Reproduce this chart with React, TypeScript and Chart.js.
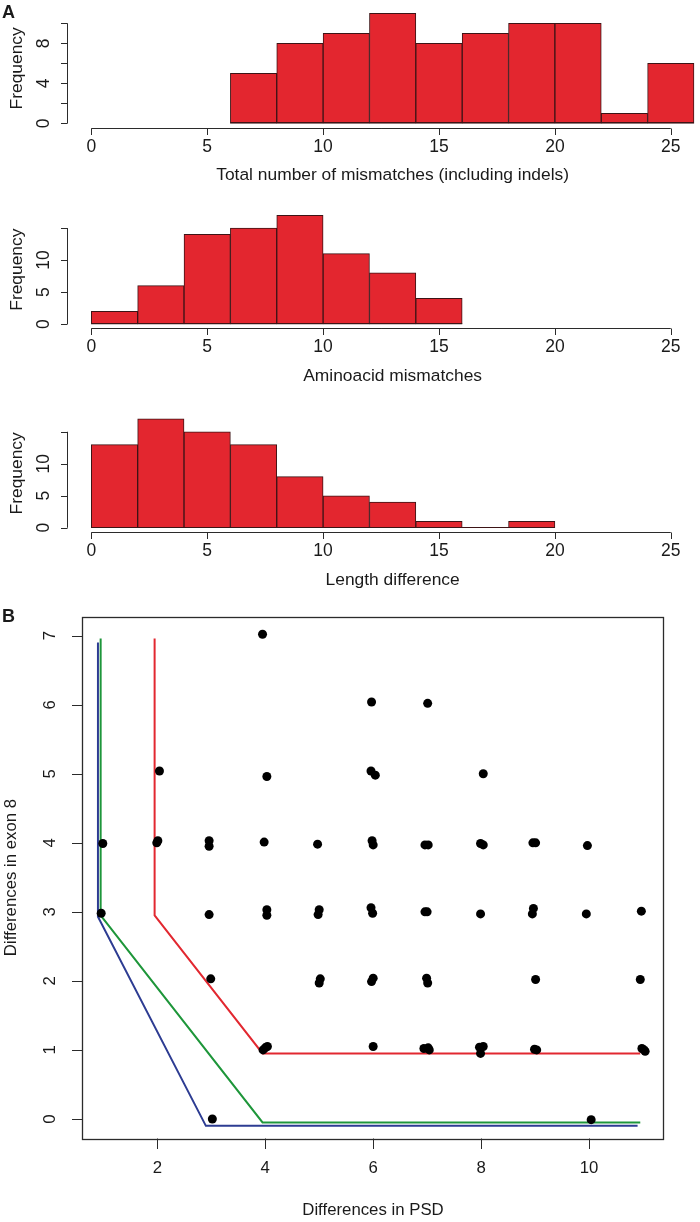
import React, { useEffect, useRef } from "react";
import { Chart, registerables } from "chart.js";

Chart.register(...registerables);

// ---------------- Data ----------------
const binWidth = 2;

const mismatchBinStarts = [6, 8, 10, 12, 14, 16, 18, 20, 22, 24];
const mismatchCounts = [5, 8, 9, 11, 8, 9, 10, 10, 1, 6];

const aminoBinStarts = [0, 2, 4, 6, 8, 10, 12, 14];
const aminoCounts = [2, 6, 14, 15, 17, 11, 8, 4];

const lengthBinStarts = [0, 2, 4, 6, 8, 10, 12, 14, 16, 18];
const lengthCounts = [13, 17, 15, 13, 8, 5, 4, 1, 0, 1];

const histXTicks = [0, 5, 10, 15, 20, 25];
const histXTickLabels = ["0", "5", "10", "15", "20", "25"];
const mismatchYTicks = [0, 2, 4, 6, 8, 10];
const mismatchYTickLabels = ["0", "", "4", "", "8", ""];
const freqYTicks = [0, 5, 10, 15];
const freqYTickLabels = ["0", "5", "10", ""];

const psdXTicks = [2, 4, 6, 8, 10];
const psdXTickLabels = ["2", "4", "6", "8", "10"];
const exonYTicks = [0, 1, 2, 3, 4, 5, 6, 7];
const exonYTickLabels = ["0", "1", "2", "3", "4", "5", "6", "7"];

// jittered observations: [differences in PSD, differences in exon 8]
const psdPoints: [number, number][] = [
  [3.95, 7.02],
  [5.97, 6.04], [7.01, 6.02],
  [2.04, 5.04], [4.03, 4.96], [5.96, 5.04], [6.04, 4.98], [8.04, 5.0],
  [0.99, 3.99], [1.99, 4.0], [2.01, 4.03], [2.96, 4.03], [2.96, 3.95],
  [3.98, 4.01], [4.97, 3.98], [5.98, 4.03], [6.0, 3.97], [6.96, 3.97],
  [7.02, 3.97], [7.99, 3.99], [8.04, 3.97], [8.96, 4.0], [9.01, 4.0], [9.97, 3.96],
  [0.96, 2.98], [2.96, 2.96], [4.03, 3.03], [4.03, 2.95], [5.0, 3.03],
  [4.98, 2.96], [5.96, 3.06], [5.99, 2.98], [6.96, 3.0], [7.0, 3.0],
  [7.99, 2.97], [8.97, 3.05], [8.95, 2.97], [9.95, 2.97], [10.97, 3.01],
  [2.99, 2.03], [5.02, 2.03], [5.0, 1.97], [6.0, 2.04], [5.97, 1.99],
  [6.99, 2.04], [7.01, 1.97], [9.01, 2.02], [10.95, 2.02],
  [4.0, 1.03], [4.04, 1.05], [3.96, 1.0], [6.0, 1.05], [6.94, 1.02],
  [7.02, 1.03], [7.04, 1.0], [7.97, 1.04], [8.04, 1.05], [7.99, 0.95],
  [8.99, 1.01], [9.03, 1.0], [10.98, 1.02], [11.04, 0.98], [11.02, 1.0],
  [3.02, 0.0], [10.04, -0.01],
];

const redBoundary: [number, number][] = [[1.95, 6.96], [1.95, 2.95], [3.95, 0.95], [10.95, 0.95]];
const greenBoundary: [number, number][] = [[0.95, 6.96], [0.95, 2.95], [3.95, -0.05], [10.95, -0.05]];
const blueBoundary: [number, number][] = [[0.9, 6.9], [0.9, 2.93], [2.9, -0.1], [10.9, -0.1]];

// ---------------- Styles ----------------
const BAR_FILL = "rgb(227,38,47)";
const BAR_EDGE = "#3d1416";
const AXIS_COLOR = "#2b2b2b";
const TEXT_COLOR = "#1a1a1a";
const FONT = '"Liberation Sans", Arial, Helvetica, sans-serif';

type AxisCfg = {
  xTicks: number[];
  xLabels: string[];
  yTicks: number[];
  yLabels: string[];
  xTitle: string;
  yTitle: string;
  font: number;
  titleFont: number;
  tickLen: number;
  xLabelOff: number;
  xTitleOff: number;
  yLabelOff: number;
  yTitleX: number;
  box: boolean;
  xTitleCenterValue?: number;
  letter?: string;
  letterX?: number;
  letterY?: number;
  letterSize?: number;
  baseline?: [number, number];
};

function makeAxesPlugin(cfg: AxisCfg) {
  return {
    id: "rAxes",
    afterDatasetsDraw(chart: any) {
      const { ctx, chartArea: a, scales } = chart;
      const xs = scales.x;
      const ys = scales.y;
      const snap = (v: number) => Math.round(v) + 0.5;
      ctx.save();
      ctx.strokeStyle = AXIS_COLOR;
      ctx.lineWidth = 1;

      if (cfg.baseline) {
        const y0 = Math.round(ys.getPixelForValue(0)) - 0.5;
        ctx.strokeStyle = BAR_EDGE;
        ctx.beginPath();
        ctx.moveTo(xs.getPixelForValue(cfg.baseline[0]), y0);
        ctx.lineTo(xs.getPixelForValue(cfg.baseline[1]), y0);
        ctx.stroke();
        ctx.strokeStyle = AXIS_COLOR;
      }

      if (cfg.box) {
        ctx.lineWidth = 1.3;
        ctx.strokeRect(snap(a.left), snap(a.top), Math.round(a.right - a.left), Math.round(a.bottom - a.top));
        ctx.lineWidth = 1;
      }

      // x axis
      const xAxisY = snap(a.bottom);
      if (!cfg.box) {
        ctx.beginPath();
        ctx.moveTo(xs.getPixelForValue(cfg.xTicks[0]), xAxisY);
        ctx.lineTo(xs.getPixelForValue(cfg.xTicks[cfg.xTicks.length - 1]), xAxisY);
        ctx.stroke();
      }
      ctx.beginPath();
      cfg.xTicks.forEach((t) => {
        const px = snap(xs.getPixelForValue(t));
        ctx.moveTo(px, xAxisY);
        ctx.lineTo(px, xAxisY + cfg.tickLen);
      });
      ctx.stroke();

      // y axis
      const yAxisX = snap(a.left);
      if (!cfg.box) {
        ctx.beginPath();
        ctx.moveTo(yAxisX, ys.getPixelForValue(cfg.yTicks[0]));
        ctx.lineTo(yAxisX, ys.getPixelForValue(cfg.yTicks[cfg.yTicks.length - 1]));
        ctx.stroke();
      }
      ctx.beginPath();
      cfg.yTicks.forEach((t) => {
        const py = snap(ys.getPixelForValue(t));
        ctx.moveTo(yAxisX, py);
        ctx.lineTo(yAxisX - cfg.tickLen, py);
      });
      ctx.stroke();

      // labels
      ctx.fillStyle = TEXT_COLOR;
      ctx.textAlign = "center";
      ctx.textBaseline = "middle";
      ctx.font = `${cfg.font}px ${FONT}`;
      cfg.xTicks.forEach((t, i) => {
        ctx.fillText(cfg.xLabels[i], xs.getPixelForValue(t), a.bottom + cfg.xLabelOff);
      });
      cfg.yTicks.forEach((t, i) => {
        if (!cfg.yLabels[i]) return;
        ctx.save();
        ctx.translate(a.left - cfg.yLabelOff, ys.getPixelForValue(t));
        ctx.rotate(-Math.PI / 2);
        ctx.fillText(cfg.yLabels[i], 0, 0);
        ctx.restore();
      });

      ctx.font = `${cfg.titleFont}px ${FONT}`;
      const titleX =
        cfg.xTitleCenterValue !== undefined
          ? xs.getPixelForValue(cfg.xTitleCenterValue)
          : (a.left + a.right) / 2;
      ctx.fillText(cfg.xTitle, titleX, a.bottom + cfg.xTitleOff);
      ctx.save();
      ctx.translate(cfg.yTitleX, (a.top + a.bottom) / 2);
      ctx.rotate(-Math.PI / 2);
      ctx.fillText(cfg.yTitle, 0, 0);
      ctx.restore();

      if (cfg.letter) {
        ctx.font = `bold ${cfg.letterSize ?? cfg.titleFont}px ${FONT}`;
        ctx.textAlign = "left";
        ctx.fillText(cfg.letter, cfg.letterX ?? 2, cfg.letterY ?? 12);
      }
      ctx.restore();
    },
  };
}

function histConfig(
  binStarts: number[],
  counts: number[],
  yRange: [number, number],
  padding: { left: number; right: number; top: number; bottom: number },
  axis: AxisCfg
): any {
  return {
    type: "bar",
    data: {
      datasets: [
        {
          data: binStarts.map((s, i) => ({ x: s + binWidth / 2, y: counts[i] })),
          backgroundColor: BAR_FILL,
          borderColor: BAR_EDGE,
          borderWidth: 1,
          borderSkipped: false,
          barPercentage: 1,
          categoryPercentage: 1,
        },
      ],
    },
    options: {
      responsive: false,
      animation: false,
      devicePixelRatio: 1,
      layout: { padding },
      events: [],
      plugins: { legend: { display: false }, tooltip: { enabled: false } },
      scales: {
        x: {
          type: "linear",
          offset: false,
          min: -1.04,
          max: 26.26,
          display: false,
          grid: { offset: false },
          ticks: { stepSize: 5, includeBounds: false },
        },
        y: { type: "linear", min: yRange[0], max: yRange[1], display: false },
      },
    },
    plugins: [makeAxesPlugin(axis)],
  };
}

const histAxisBase = {
  xTicks: histXTicks,
  xLabels: histXTickLabels,
  yTitle: "Frequency",
  font: 17.5,
  titleFont: 17.4,
  tickLen: 6.5,
  xLabelOff: 19,
  xTitleOff: 48,
  yLabelOff: 23,
  yTitleX: 17.5,
  box: false,
  xTitleCenterValue: 13,
};

const chart1 = histConfig(
  mismatchBinStarts,
  mismatchCounts,
  [-0.44, 11.44],
  { left: 67.2, right: 0, top: 9, bottom: 72.3 },
  {
    ...histAxisBase,
    yTicks: mismatchYTicks,
    yLabels: mismatchYTickLabels,
    xTitle: "Total number of mismatches (including indels)",
    letter: "A",
    letterX: 2,
    letterY: 13,
    letterSize: 18,
    baseline: [mismatchBinStarts[0], mismatchBinStarts[mismatchBinStarts.length - 1] + binWidth],
  }
);

const chart2 = histConfig(
  aminoBinStarts,
  aminoCounts,
  [-0.68, 17.68],
  { left: 67.2, right: 0, top: 10.9, bottom: 71.6 },
  {
    ...histAxisBase,
    yTicks: freqYTicks,
    yLabels: freqYTickLabels,
    xTitle: "Aminoacid mismatches",
    baseline: [aminoBinStarts[0], aminoBinStarts[aminoBinStarts.length - 1] + binWidth],
  }
);

const chart3 = histConfig(
  lengthBinStarts,
  lengthCounts,
  [-0.68, 17.68],
  { left: 67.2, right: 0, top: 14.6, bottom: 67.9 },
  {
    ...histAxisBase,
    yTicks: freqYTicks,
    yLabels: freqYTickLabels,
    xTitle: "Length difference",
    baseline: [lengthBinStarts[0], lengthBinStarts[lengthBinStarts.length - 1] + binWidth],
  }
);

const toXY = (arr: [number, number][]) => arr.map(([x, y]) => ({ x, y }));

const lineDs = (pts: [number, number][], color: string) => ({
  type: "line",
  data: toXY(pts),
  borderColor: color,
  borderWidth: 2,
  pointRadius: 0,
  tension: 0,
  fill: false,
  showLine: true,
});

const chart4: any = {
  type: "scatter",
  data: {
    datasets: [
      {
        type: "scatter",
        data: toXY(psdPoints),
        pointRadius: 4.5,
        pointBackgroundColor: "#000",
        pointBorderWidth: 0,
        showLine: false,
      },
      lineDs(redBoundary, "rgb(226,40,48)"),
      lineDs(greenBoundary, "rgb(30,150,58)"),
      lineDs(blueBoundary, "rgb(45,60,146)"),
    ],
  },
  options: {
    responsive: false,
    animation: false,
    devicePixelRatio: 1,
    events: [],
    layout: { padding: { left: 82.3, right: 36.3, top: 16.7, bottom: 83.7 } },
    plugins: { legend: { display: false }, tooltip: { enabled: false } },
    scales: {
      x: { type: "linear", min: 0.61, max: 11.384, display: false },
      y: { type: "linear", min: -0.28, max: 7.275, display: false },
    },
  },
  plugins: [
    makeAxesPlugin({
      xTicks: psdXTicks,
      xLabels: psdXTickLabels,
      yTicks: exonYTicks,
      yLabels: exonYTickLabels,
      xTitle: "Differences in PSD",
      yTitle: "Differences in exon 8",
      font: 16.8,
      titleFont: 16.8,
      tickLen: 10.5,
      xLabelOff: 30.5,
      xTitleOff: 71.7,
      yLabelOff: 32.3,
      yTitleX: 11.7,
      box: true,
      letter: "B",
      letterX: 2,
      letterY: 17,
      letterSize: 18,
    }),
  ],
};

function ChartCanvas({ top, height, config }: { top: number; height: number; config: any }) {
  const ref = useRef<HTMLCanvasElement>(null);
  useEffect(() => {
    if (!ref.current) return;
    const chart = new Chart(ref.current, config);
    return () => chart.destroy();
  }, [config]);
  return (
    <canvas
      ref={ref}
      width={700}
      height={height}
      style={{ position: "absolute", left: 0, top, width: 700, height, display: "block" }}
    />
  );
}

export default function App() {
  return (
    <div
      style={{
        position: "absolute",
        left: 0,
        top: 0,
        width: 700,
        height: 1222,
        background: "#fff",
        overflow: "hidden",
      }}
    >
      <ChartCanvas top={0} height={200} config={chart1} />
      <ChartCanvas top={200} height={200} config={chart2} />
      <ChartCanvas top={400} height={200} config={chart3} />
      <ChartCanvas top={600} height={622} config={chart4} />
    </div>
  );
}
